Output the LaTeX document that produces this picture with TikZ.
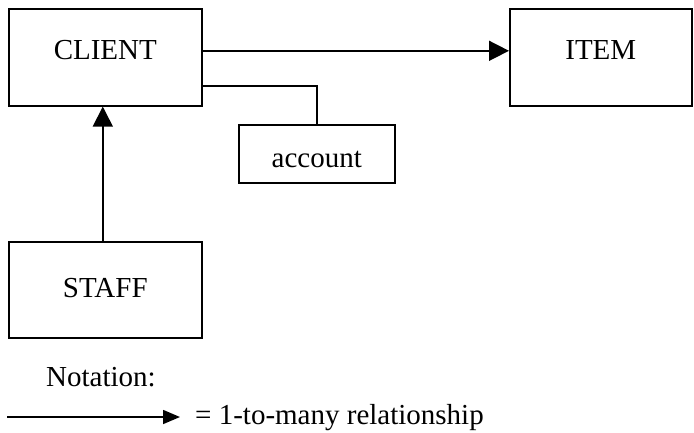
\documentclass[tikz,border=0pt]{standalone}
\usepackage{fontspec}
\setmainfont{Liberation Serif}
\usetikzlibrary{arrows.meta}
\begin{document}
\begin{tikzpicture}[x=1pt,y=1pt,
  entbox/.style={draw, line width=1.6pt, inner sep=0pt, font=\fontsize{29}{33}\selectfont, minimum width=#1},
  entbox/.default=193pt,
  conn/.style={line width=1.6pt},
  bigtip/.style={-{Triangle[length=20pt,width=20pt]}},
  smalltip/.style={-{Triangle[length=17pt,width=14pt]}},
  lab/.style={inner sep=0pt, font=\fontsize{29}{33}\selectfont}
]
\useasboundingbox (0,0) rectangle (694,-432);
\node[entbox, text height=51pt, text depth=46pt, anchor=north west] (client) at (8,-8) {CLIENT};
\node[entbox=182pt, text height=51pt, text depth=46pt, anchor=north west] (item) at (509,-8) {ITEM};
\node[entbox, text height=56pt, text depth=40pt, anchor=north west] (staff) at (8,-241) {STAFF};
\node[entbox=156pt, text height=43pt, text depth=15pt, anchor=north west] (account) at (238,-124) {account};
\draw[conn, bigtip] ([yshift=6.5pt]client.east) -- ([yshift=6.5pt]item.west);
\draw[conn] ([yshift=-28.5pt]client.east) -| (account.north);
\draw[conn, bigtip] ([xshift=-2.5pt]staff.north) -- ([xshift=-2.5pt]client.south);
\node[lab, anchor=base west] (nottext) at (46,-386) {Notation:};
\node[lab, anchor=base west] (legtext) at (195,-424) {= 1-to-many relationship};
\coordinate (legstart) at (7,-417);
\coordinate (legend) at (180,-417);
\draw[conn, smalltip] (legstart) -- (legend);
\end{tikzpicture}
\end{document}
